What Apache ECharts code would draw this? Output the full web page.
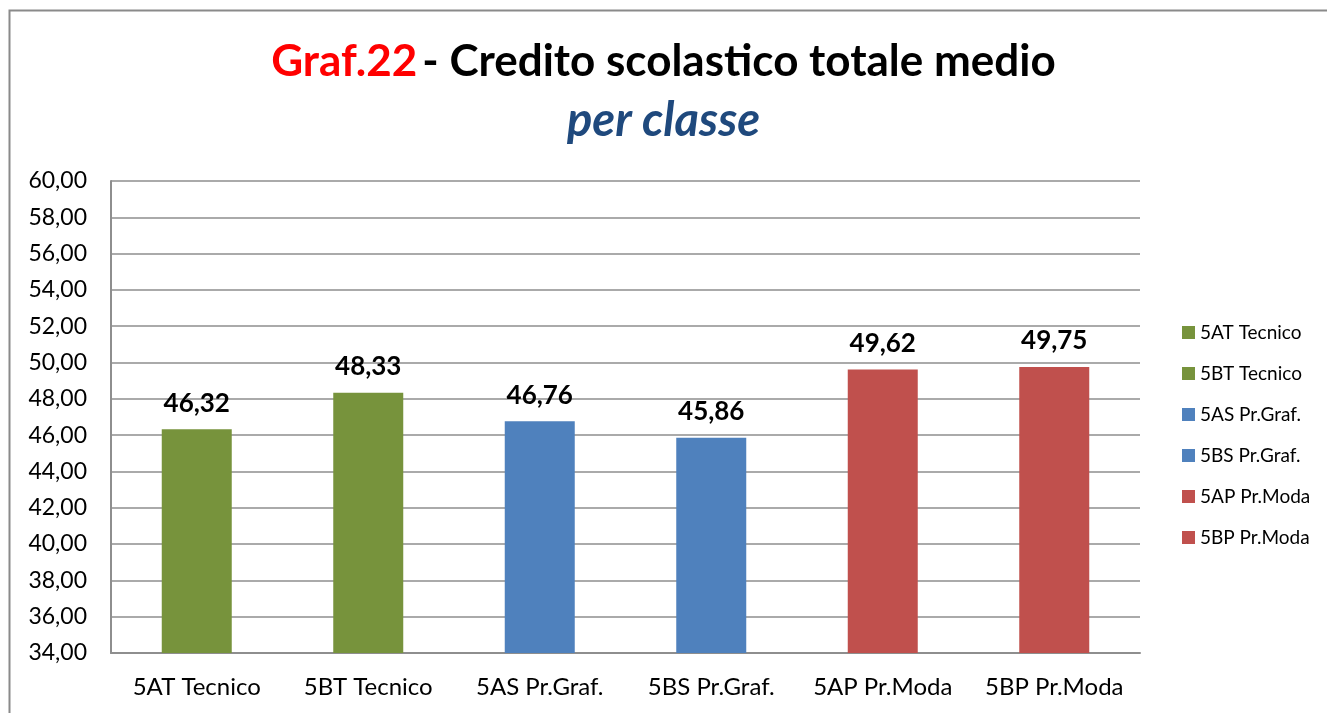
<!DOCTYPE html>
<html>
<head>
<meta charset="utf-8">
<script src="https://cdn.jsdelivr.net/npm/echarts@6/dist/echarts.min.js"></script>
<style>
  html, body { margin: 0; padding: 0; background: #fff; }
  #chart_graf22 { width: 1327px; height: 713px; }
</style>
</head>
<body>
<div id="chart_graf22"></div>
<script>
// classi e crediti medi
const categories = ['5AT Tecnico', '5BT Tecnico', '5AS Pr.Graf.', '5BS Pr.Graf.', '5AP Pr.Moda', '5BP Pr.Moda']
const values = [46.32, 48.33, 46.76, 45.86, 49.62, 49.75]
const barColors = ['#77933C', '#77933C', '#4F81BD', '#4F81BD', '#C0504D', '#C0504D']
const yTicks = { min: 34, max: 60, step: 2 }

const fmt = v => Number(v).toFixed(2).replace('.', ',')
const FONT = 'Lato, "Open Sans", sans-serif'

const myChart = echarts.init(document.getElementById('chart_graf22'))

// una serie per classe, impilate, cosi' la legenda mostra ogni classe
const series = categories.map((name, i) => ({
  name: name,
  type: 'bar',
  stack: 'tot',
  barWidth: 70,
  itemStyle: { color: barColors[i] },
  data: categories.map((c, j) => (j === i ? values[i] : '-')),
  label: {
    show: true,
    position: 'top',
    distance: 13,
    color: '#000',
    fontFamily: FONT,
    fontWeight: 'bold',
    fontSize: 26,
    formatter: p => fmt(p.value)
  }
}))

const option = {
  backgroundColor: '#fff',
  graphic: [
    {
      type: 'rect',
      shape: { x: 9.5, y: 10.5, width: 1400, height: 800 },
      style: { fill: 'none', stroke: '#8a8a8a', lineWidth: 2 },
      silent: true
    }
  ],
  title: [
    {
      left: 'center',
      top: 35,
      text: '{r|Graf.22} {b|- Credito scolastico totale medio}',
      textStyle: {
        rich: {
          r: { color: '#FF0000', fontFamily: FONT, fontWeight: 'bold', fontSize: 44 },
          b: { color: '#000', fontFamily: FONT, fontWeight: 'bold', fontSize: 44 }
        }
      }
    },
    {
      left: 'center',
      top: 92,
      text: 'per classe',
      textStyle: {
        color: '#1F497D',
        fontFamily: FONT,
        fontStyle: 'italic',
        fontWeight: 'bold',
        fontSize: 47
      }
    }
  ],
  legend: {
    orient: 'vertical',
    left: 1177,
    top: 318,
    icon: 'rect',
    itemWidth: 13,
    itemHeight: 13,
    itemGap: 22,
    data: categories,
    textStyle: { color: '#000', fontFamily: FONT, fontSize: 19 }
  },
  grid: {
    left: 111,
    top: 181,
    right: 187,
    bottom: 60,
    containLabel: false
  },
  xAxis: {
    type: 'category',
    data: categories,
    axisTick: { show: false },
    axisLine: { lineStyle: { color: '#8e8e8e', width: 2 } },
    axisLabel: { color: '#000', fontFamily: FONT, fontSize: 24, margin: 22, interval: 0 }
  },
  yAxis: {
    type: 'value',
    min: yTicks.min,
    max: yTicks.max,
    interval: yTicks.step,
    axisLine: { show: true, lineStyle: { color: '#8e8e8e', width: 2 } },
    axisTick: { show: false },
    splitLine: { lineStyle: { color: '#8e8e8e', width: 1.5 } },
    axisLabel: {
      color: '#000',
      fontFamily: FONT,
      fontSize: 23,
      margin: 24,
      formatter: v => fmt(v)
    }
  },
  series: series
}

myChart.setOption(option)
</script>
</body>
</html>
